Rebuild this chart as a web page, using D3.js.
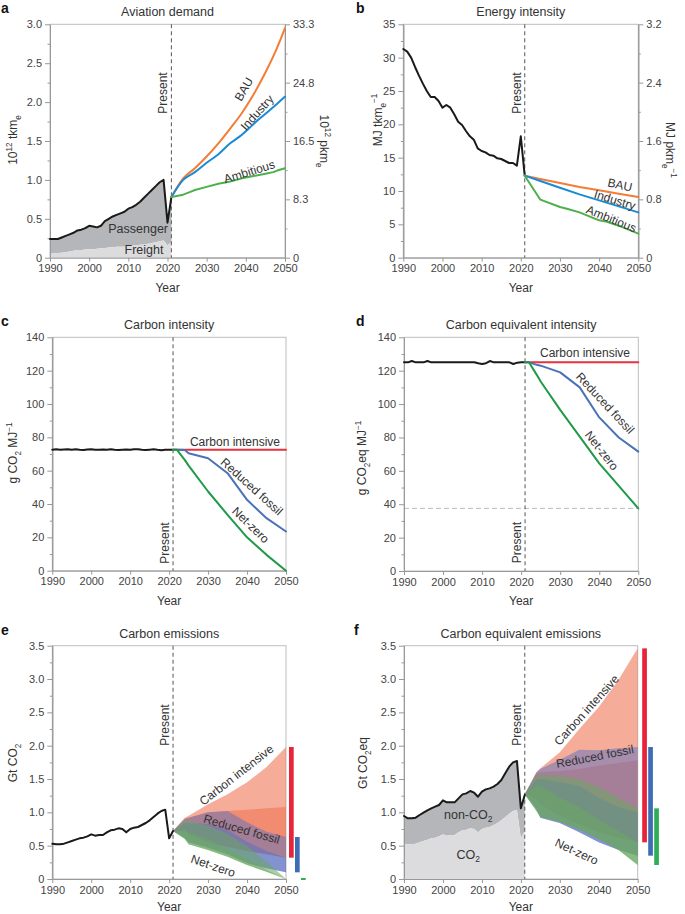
<!DOCTYPE html>
<html><head><meta charset="utf-8">
<script src="https://cdn.jsdelivr.net/npm/d3@7"></script>
<style>body{margin:0;background:#fff}svg{display:block;font-family:"Liberation Sans",Arial,sans-serif}</style>
</head><body><svg id="c" width="685" height="914"></svg>
<script>
// ---------------- DATA ----------------
const histYears = d3.range(1990, 2022);
const xTickYears = [1990, 2000, 2010, 2020, 2030, 2040, 2050];
const presentYear = 2021;

// (a) Aviation demand, 10^12 tkm_e
const demandTotal = [0.24,0.24,0.24,0.26,0.28,0.30,0.32,0.35,0.36,0.38,0.41,0.40,0.39,0.41,0.47,0.50,0.53,0.55,0.57,0.59,0.63,0.65,0.68,0.72,0.77,0.82,0.87,0.92,0.97,1.00,0.45,0.78];
const demandFreight = [0.05,0.055,0.06,0.065,0.07,0.08,0.09,0.10,0.10,0.105,0.11,0.11,0.115,0.12,0.125,0.13,0.135,0.14,0.14,0.14,0.15,0.155,0.16,0.165,0.17,0.18,0.19,0.20,0.21,0.22,0.16,0.20];
const demandProjYears = [2021,2024,2027,2030,2033,2036,2039,2042,2045,2048,2050];
const demandBAU      = [0.78,1.02,1.15,1.30,1.47,1.66,1.86,2.10,2.38,2.70,2.95];
const demandIndustry = [0.78,1.00,1.10,1.22,1.33,1.47,1.58,1.72,1.85,1.98,2.07];
const ambYears       = [2021,2024,2026,2027,2030,2033,2036,2039,2042,2045,2047,2048,2050];
const demandAmbitious= [0.78,0.81,0.85,0.87,0.91,0.95,0.98,1.02,1.05,1.08,1.10,1.12,1.15];
const aTicks = [0,0.5,1,1.5,2,2.5,3], aMinor = [0.25,0.75,1.25,1.75,2.25,2.75];
const aRightLabels = ["0","8.3","16.5","24.8","33.3"];

// (b) Energy intensity, MJ tkm_e^-1
const energyHist = [31.3,30.9,30.0,28.6,27.3,26.1,25.0,24.1,24.1,23.5,22.5,22.9,22.5,21.5,20.4,19.9,19.0,18.2,17.7,16.4,16.0,15.8,15.4,15.3,14.9,14.8,14.5,14.2,14.2,13.8,18.2,12.3];
const energyProjYears = [2021,2025,2030,2035,2040,2045,2050];
const energyBAU      = [12.3,11.8,11.2,10.6,10.1,9.6,9.1];
const energyIndustry = [12.3,11.5,10.5,9.5,8.6,7.7,6.8];
const ambEnergyYears = [2021,2025,2030,2032,2035,2040,2042,2045,2050];
const energyAmbitious= [12.3,8.7,7.6,7.3,6.8,5.6,5.4,4.8,3.6];
const bTicks = [0,5,10,15,20,25,30,35], bMinor = [2.5,7.5,12.5,17.5,22.5,27.5,32.5];
const bRightTicks = [0,0.8,1.6,2.4,3.2], bRightMinor = [0.4,1.2,2.0,2.8];

// (c) Carbon intensity, g CO2 MJ^-1
const ciHist = [72.6,72.8,72.5,72.7,72.9,72.6,72.8,72.5,72.4,72.7,72.8,72.6,72.5,72.7,72.6,72.8,72.5,72.4,72.6,72.7,72.5,72.8,72.9,72.6,72.4,72.6,72.8,72.5,72.3,72.5,72.6,72.5];
const intProjYears = [2021,2022,2024,2025,2030,2035,2040,2045,2050];
const ciCarbonIntensive = [72.5,72.5,72.5,72.5,72.5,72.5,72.5,72.5,72.5];
const ciReducedFossil   = [72.5,72.5,72.4,70.5,67.5,58.5,42.5,31.5,23.5];
const ciNetZero         = [72.5,72.5,66.5,63.0,47.5,33.5,20.0,9.5,0.0];
const cTicks = [0,20,40,60,80,100,120,140], cMinor = [10,30,50,70,90,110,130];

// (d) Carbon equivalent intensity, g CO2eq MJ^-1
const ceiHist = [125,125,125.8,125,125,125,125.8,125,125,125,125,125,125,125,125,125,125,125,125,124.4,124,124.5,125.8,125,125,125,125,125,124,124.8,125,125];
const ceiCarbonIntensive = [125,125,125,125,125,125,125,125,125];
const ceiReducedFossil   = [125,125,123.5,123,119,110,92,80,71.5];
const ceiNetZero         = [125,125,117.5,113.5,96.5,80.5,64.5,51,37.5];
const ceiNetZeroFloor = 37.5;

// (e) Carbon emissions, Gt CO2 (also CO2 part of f)
const co2Hist = [0.53,0.52,0.52,0.53,0.55,0.57,0.59,0.61,0.62,0.64,0.67,0.65,0.66,0.66,0.70,0.73,0.74,0.76,0.75,0.70,0.75,0.77,0.78,0.81,0.84,0.88,0.93,0.98,1.02,1.04,0.61,0.72];
const bandYears = [2021,2024,2025,2030,2035,2040,2045,2050];
const eRedHigh   = [0.72,0.92,0.95,1.12,1.27,1.45,1.68,1.98];
const eRedMid    = [0.72,0.90,0.92,1.00,1.02,1.04,1.06,1.08];
const eRedLow    = [0.72,0.72,0.66,0.55,0.48,0.42,0.37,0.32];
const eBlueHigh  = [0.72,0.90,0.92,1.00,1.02,0.85,0.71,0.63];
const eBlueMid   = [0.72,0.84,0.84,0.82,0.74,0.56,0.42,0.32];
const eBlueLow   = [0.72,0.62,0.55,0.47,0.37,0.24,0.16,0.10];
const eGreenHigh = [0.72,0.88,0.87,0.80,0.68,0.49,0.26,0.00];
const eGreenMid  = [0.72,0.74,0.70,0.60,0.45,0.30,0.14,0.00];
const eGreenLow  = [0.72,0.60,0.52,0.435,0.335,0.21,0.11,0.00];
const eTicks = [0,0.5,1,1.5,2,2.5,3,3.5], eMinor = [0.25,0.75,1.25,1.75,2.25,2.75,3.25];

// (f) Carbon equivalent emissions, Gt CO2eq
const co2eqHist = [0.945,0.91,0.91,0.92,0.96,0.995,1.03,1.06,1.085,1.11,1.18,1.15,1.15,1.15,1.21,1.27,1.285,1.32,1.295,1.235,1.31,1.345,1.36,1.385,1.425,1.485,1.585,1.685,1.75,1.77,1.06,1.26];
const fRedHigh   = [1.27,1.60,1.66,1.90,2.25,2.58,2.98,3.46];
const fRedMid    = [1.27,1.58,1.60,1.62,1.65,1.70,1.74,1.78];
const fRedLow    = [1.27,1.20,1.12,0.95,0.82,0.70,0.62,0.55];
const fBlueHigh  = [1.27,1.60,1.65,1.79,1.94,1.93,1.96,1.98];
const fBlueMid   = [1.27,1.50,1.50,1.45,1.40,1.22,1.08,1.00];
const fBlueLow   = [1.27,1.05,0.92,0.84,0.70,0.55,0.44,0.35];
const fGreenHigh = [1.27,1.55,1.56,1.55,1.50,1.38,1.22,1.06];
const fGreenMid  = [1.27,1.40,1.40,1.22,1.08,0.88,0.72,0.55];
const fGreenLow  = [1.27,1.02,0.93,0.86,0.74,0.60,0.44,0.21];

// ---------------- STYLE ----------------
const FONT = '"Liberation Sans", Arial, sans-serif';
const TXT = "#333";
const COL = {black:"#1a1a1a", bau:"#f47c35", ind:"#1a8ad6", amb:"#4db04b",
  ci:"#e8303f", rf:"#4a72b8", nz:"#1e9a48",
  passenger:"#b5b6b9", freight:"#dcdcde",
  bandRed:"#ef7656", bandBlue:"#5a6fc0", bandGreen:"#6aa860",
  barRed:"#e8243a", barBlue:"#3d6db5", barGreen:"#2eaf56"};
const BAND_OP = {red:0.6, blue:0.5, green:0.55};

const svg = d3.select("#c");

function rich(sel, parts, size) {
  let cur = 0;
  parts.forEach(([t, m]) => {
    const target = m === "sub" ? size * 0.3 : m === "sup" ? -size * 0.42 : 0;
    sel.append("tspan").attr("dy", (target - cur).toFixed(2)).attr("font-size", m ? size * 0.68 : size).text(t);
    cur = target;
  });
}

function makePanel(c) {
  const g = svg.append("g");
  const x = d3.scaleLinear().domain([1990, 2050]).range([c.x0, c.x1]);
  const y = d3.scaleLinear().domain(c.dom).range([c.y1, c.y0]);
  g.append("rect").attr("x", c.x0).attr("y", c.y0).attr("width", c.x1 - c.x0).attr("height", c.y1 - c.y0)
    .attr("fill", "none").attr("stroke", "#bdbdbd").attr("stroke-width", 1);
  return {g, x, y, c};
}

function styleAxis(a) {
  a.selectAll(".domain, .tick line").attr("stroke", "#999");
  a.selectAll("text").attr("fill", "#444").attr("font-size", 11).attr("font-family", FONT);
}

function drawAxes(p) {
  const {g, x, y, c} = p;
  const ax = g.append("g");
  ax.append("g").attr("transform", `translate(${c.x0},0)`)
    .call(d3.axisLeft(y).tickValues(c.minor).tickSize(2.5).tickSizeOuter(0).tickFormat(""));
  ax.append("g").attr("transform", `translate(${c.x0},0)`)
    .call(d3.axisLeft(y).tickValues(c.major).tickSize(5).tickSizeOuter(0).tickPadding(3).tickFormat(c.fmt));
  ax.append("g").attr("transform", `translate(0,${c.y1})`)
    .call(d3.axisBottom(x).tickValues(xTickYears).tickSize(4).tickSizeOuter(0).tickPadding(3).tickFormat(d3.format("d")));
  styleAxis(ax);
  g.append("text").attr("x", (c.x0 + c.x1) / 2).attr("y", c.y0 - 8).attr("text-anchor", "middle")
    .attr("font-size", 12.5).attr("fill", TXT).text(c.title);
  g.append("text").attr("x", c.letterX).attr("y", c.y0 - 11).attr("font-size", 14).attr("font-weight", "bold")
    .attr("fill", "#111").text(c.letter);
  g.append("text").attr("x", (c.x0 + c.x1) / 2).attr("y", c.y1 + (c.yearDy || 34)).attr("text-anchor", "middle")
    .attr("font-size", 12).attr("fill", TXT).text("Year");
  const yl = g.append("text").attr("text-anchor", "middle").attr("fill", TXT)
    .attr("transform", `translate(${c.ylabX},${c.ylabY}) rotate(-90)`);
  rich(yl, c.ylab, 12);
}

function present(p, cy) {
  const {g, x, y, c} = p;
  g.append("line").attr("x1", x(presentYear)).attr("x2", x(presentYear)).attr("y1", c.y0).attr("y2", c.y1)
    .attr("stroke", "#666").attr("stroke-width", 1.1).attr("stroke-dasharray", "4,3");
  g.append("text").attr("text-anchor", "middle").attr("font-size", 12).attr("fill", TXT)
    .attr("transform", `translate(${x(presentYear) - 4},${y(cy)}) rotate(-90)`).text("Present");
}

function line(p, xs, ys, color, w, curve) {
  const gen = d3.line().x((d, i) => p.x(xs[i])).y(d => p.y(d)).curve(curve || d3.curveLinear);
  p.g.append("path").attr("d", gen(ys)).attr("fill", "none").attr("stroke", color)
    .attr("stroke-width", w).attr("stroke-linejoin", "round").attr("stroke-linecap", "round");
}

function area(p, xs, lo, hi, color, op) {
  const gen = d3.area().x((d, i) => p.x(xs[i])).y0((d, i) => p.y(lo[i])).y1((d, i) => p.y(hi[i]));
  p.g.append("path").attr("d", gen(hi)).attr("fill", color).attr("fill-opacity", op == null ? 1 : op);
}

function label(p, text, yr, v, rot, size, parts) {
  const t = p.g.append("text").attr("text-anchor", "middle").attr("dominant-baseline", "central")
    .attr("fill", TXT).attr("font-size", size || 12)
    .attr("transform", `translate(${p.x(yr)},${p.y(v)}) rotate(${rot || 0})`);
  if (parts) rich(t, parts, size || 12); else t.text(text);
}

const zeros = histYears.map(() => 0);
const fmt1 = d => d === 0 ? "0" : d3.format(".1f")(d);

// ---------------- PANEL A ----------------
{
  const p = makePanel({x0:50, x1:285, y0:24.3, y1:257.7, dom:[0,3], major:aTicks, minor:aMinor, fmt:fmt1,
    title:"Aviation demand", letter:"a", letterX:1, ylabX:17, ylabY:140,
    ylab:[["10"],["12","sup"],[" tkm"],["e","sub"]]});
  area(p, histYears, demandFreight, demandTotal, COL.passenger);
  area(p, histYears, zeros, demandFreight, COL.freight);
  drawAxes(p);
  const c = p.c;
  const yR = d3.scaleLinear().domain([0, 33.3]).range([c.y1, c.y0]);
  const rPos = aRightLabels.map((l, i) => i * 33.3 / (aRightLabels.length - 1));
  const rMin = rPos.slice(1).map((v, i) => (v + rPos[i]) / 2);
  const ar = p.g.append("g").attr("transform", `translate(${c.x1},0)`);
  ar.append("g").call(d3.axisRight(yR).tickValues(rMin).tickSize(2.5).tickSizeOuter(0).tickFormat(""));
  ar.append("g").call(d3.axisRight(yR).tickValues(rPos).tickSize(5).tickSizeOuter(0).tickPadding(3).tickFormat((d, i) => aRightLabels[i]));
  styleAxis(ar);
  const rl = p.g.append("text").attr("text-anchor", "middle").attr("fill", TXT)
    .attr("transform", `translate(320,141) rotate(90)`);
  rich(rl, [["10"],["12","sup"],[" pkm"],["e","sub"]], 12);
  present(p, 2.117);
  line(p, histYears, demandTotal, COL.black, 2);
  line(p, demandProjYears, demandBAU, COL.bau, 2, d3.curveMonotoneX);
  line(p, demandProjYears, demandIndustry, COL.ind, 2, d3.curveMonotoneX);
  line(p, ambYears, demandAmbitious, COL.amb, 2);
  label(p, "BAU", 2039.5, 2.165, -60);
  label(p, "Industry", 2042.9, 1.864, -48);
  label(p, "Ambitious", 2040.9, 1.105, -17);
  label(p, "Passenger", 2012.5, 0.365, 0, 12.5);
  label(p, "Freight", 2014, 0.099, 0, 12.5);
}

// ---------------- PANEL B ----------------
{
  const p = makePanel({x0:403.3, x1:638.3, y0:24.3, y1:257.7, dom:[0,35], major:bTicks, minor:bMinor, fmt:d3.format("d"),
    title:"Energy intensity", letter:"b", letterX:356, ylabX:382, ylabY:120,
    ylab:[["MJ tkm"],["e","sub"],["−1","sup"]]});
  drawAxes(p);
  const c = p.c;
  const yR = d3.scaleLinear().domain([0, 3.2]).range([c.y1, c.y0]);
  const ar = p.g.append("g").attr("transform", `translate(${c.x1},0)`);
  ar.append("g").call(d3.axisRight(yR).tickValues(bRightMinor).tickSize(2.5).tickSizeOuter(0).tickFormat(""));
  ar.append("g").call(d3.axisRight(yR).tickValues(bRightTicks).tickSize(5).tickSizeOuter(0).tickPadding(3).tickFormat(fmt1));
  styleAxis(ar);
  const rl = p.g.append("text").attr("text-anchor", "middle").attr("fill", TXT)
    .attr("transform", `translate(666,150) rotate(90)`);
  rich(rl, [["MJ pkm"],["e","sub"],["−1","sup"]], 12);
  present(p, 24.7);
  line(p, histYears, energyHist, COL.black, 2);
  line(p, energyProjYears, energyBAU, COL.bau, 2);
  line(p, energyProjYears, energyIndustry, COL.ind, 2);
  line(p, ambEnergyYears, energyAmbitious, COL.amb, 2);
  label(p, "BAU", 2045.3, 10.9, 12);
  label(p, "Industry", 2044.0, 8.65, 17);
  label(p, "Ambitious", 2043.1, 5.8, 22);
}

// ---------------- PANEL C ----------------
{
  const p = makePanel({x0:52.3, x1:286, y0:337.3, y1:570.7, dom:[0,140], major:cTicks, minor:cMinor, fmt:d3.format("d"),
    title:"Carbon intensity", letter:"c", letterX:1, ylabX:17, ylabY:453,
    ylab:[["g CO"],["2","sub"],[" MJ"],["−1","sup"]]});
  drawAxes(p);
  present(p, 16.6);
  line(p, histYears, ciHist, COL.black, 2);
  line(p, intProjYears, ciCarbonIntensive, COL.ci, 2);
  line(p, intProjYears, ciReducedFossil, COL.rf, 2);
  line(p, intProjYears, ciNetZero, COL.nz, 2);
  label(p, "Carbon intensive", 2036.9, 77.4, 0);
  label(p, "Reduced fossil", 2041.2, 50.4, 42);
  label(p, "Net-zero", 2040.9, 27.4, 44);
}

// ---------------- PANEL D ----------------
{
  const p = makePanel({x0:404, x1:638.3, y0:337.3, y1:571, dom:[0,140], major:cTicks, minor:cMinor, fmt:d3.format("d"),
    title:"Carbon equivalent intensity", letter:"d", letterX:356, ylabX:366, ylabY:458,
    ylab:[["g CO"],["2","sub"],["eq MJ"],["−1","sup"]]});
  p.g.append("line").attr("x1", p.x(1990)).attr("x2", p.x(2050)).attr("y1", p.y(ceiNetZeroFloor)).attr("y2", p.y(ceiNetZeroFloor))
    .attr("stroke", "#bbb").attr("stroke-width", 1).attr("stroke-dasharray", "5,3");
  drawAxes(p);
  present(p, 17);
  line(p, histYears, ceiHist, COL.black, 2);
  line(p, intProjYears, ceiCarbonIntensive, COL.ci, 2);
  line(p, intProjYears, ceiReducedFossil, COL.rf, 2);
  line(p, intProjYears, ceiNetZero, COL.nz, 2);
  label(p, "Carbon intensive", 2036.35, 130.4, 0);
  label(p, "Reduced fossil", 2041.5, 100.5, 47);
  label(p, "Net-zero", 2040.6, 72.1, 52);
}

function bands(p, sets, barOff) {
  sets.forEach(s => {
    area(p, bandYears, s.low, s.high, s.fill, s.op);
    area(p, bandYears, s.low, s.mid, s.fill, s.op);
  });
  sets.forEach((s, i) => {
    const lo = s.low[s.low.length - 1], hi = s.high[s.high.length - 1];
    const y1 = p.y(hi), y2 = p.y(lo);
    const h = Math.max(y2 - y1, 2);
    p.g.append("rect").attr("x", p.c.x1 + barOff[i]).attr("width", 4.7)
      .attr("y", h > 2 ? y1 : (y1 + y2) / 2 - 1).attr("height", h).attr("fill", s.bar);
  });
}

// ---------------- PANEL E ----------------
{
  const p = makePanel({x0:52.3, x1:286, y0:645.7, y1:879, dom:[0,3.5], major:eTicks, minor:eMinor, fmt:fmt1,
    title:"Carbon emissions", letter:"e", letterX:1, ylabX:17, ylabY:763, yearDy:32,
    ylab:[["Gt CO"],["2","sub"]]});
  bands(p, [
    {low:eRedLow, mid:eRedMid, high:eRedHigh, fill:COL.bandRed, op:BAND_OP.red, bar:COL.barRed},
    {low:eBlueLow, mid:eBlueMid, high:eBlueHigh, fill:COL.bandBlue, op:BAND_OP.blue, bar:COL.barBlue},
    {low:eGreenLow, mid:eGreenMid, high:eGreenHigh, fill:COL.bandGreen, op:BAND_OP.green, bar:COL.barGreen}
  ], [3, 9, 15]);
  drawAxes(p);
  present(p, 2.31);
  line(p, histYears, co2Hist, COL.black, 2);
  label(p, "Carbon intensive", 2037.3, 1.56, -38);
  label(p, "Reduced fossil", 2038.6, 0.745, 16);
  label(p, "Net-zero", 2031.3, 0.195, 19);
}

// ---------------- PANEL F ----------------
{
  const p = makePanel({x0:404, x1:637.7, y0:645.7, y1:879, dom:[0,3.5], major:eTicks, minor:eMinor, fmt:fmt1,
    title:"Carbon equivalent emissions", letter:"f", letterX:354, ylabX:367, ylabY:763, yearDy:32,
    ylab:[["Gt CO"],["2","sub"],["eq"]]});
  area(p, histYears, co2Hist, co2eqHist, COL.passenger);
  area(p, histYears, zeros, co2Hist, COL.freight);
  bands(p, [
    {low:fRedLow, mid:fRedMid, high:fRedHigh, fill:COL.bandRed, op:BAND_OP.red, bar:COL.barRed},
    {low:fBlueLow, mid:fBlueMid, high:fBlueHigh, fill:COL.bandBlue, op:BAND_OP.blue, bar:COL.barBlue},
    {low:fGreenLow, mid:fGreenMid, high:fGreenHigh, fill:COL.bandGreen, op:BAND_OP.green, bar:COL.barGreen}
  ], [4.5, 10.5, 16.5]);
  drawAxes(p);
  present(p, 2.31);
  line(p, histYears, co2eqHist, COL.black, 2);
  label(p, "Carbon intensive", 2036.9, 2.535, -48);
  label(p, "Reduced fossil", 2039.0, 1.835, -11);
  label(p, "Net-zero", 2034.3, 0.41, 25);
  label(p, null, 2006.5, 0.96, 0, 12.5, [["non-CO"],["2","sub"]]);
  label(p, null, 2006.5, 0.36, 0, 12.5, [["CO"],["2","sub"]]);
}
</script></body></html>
